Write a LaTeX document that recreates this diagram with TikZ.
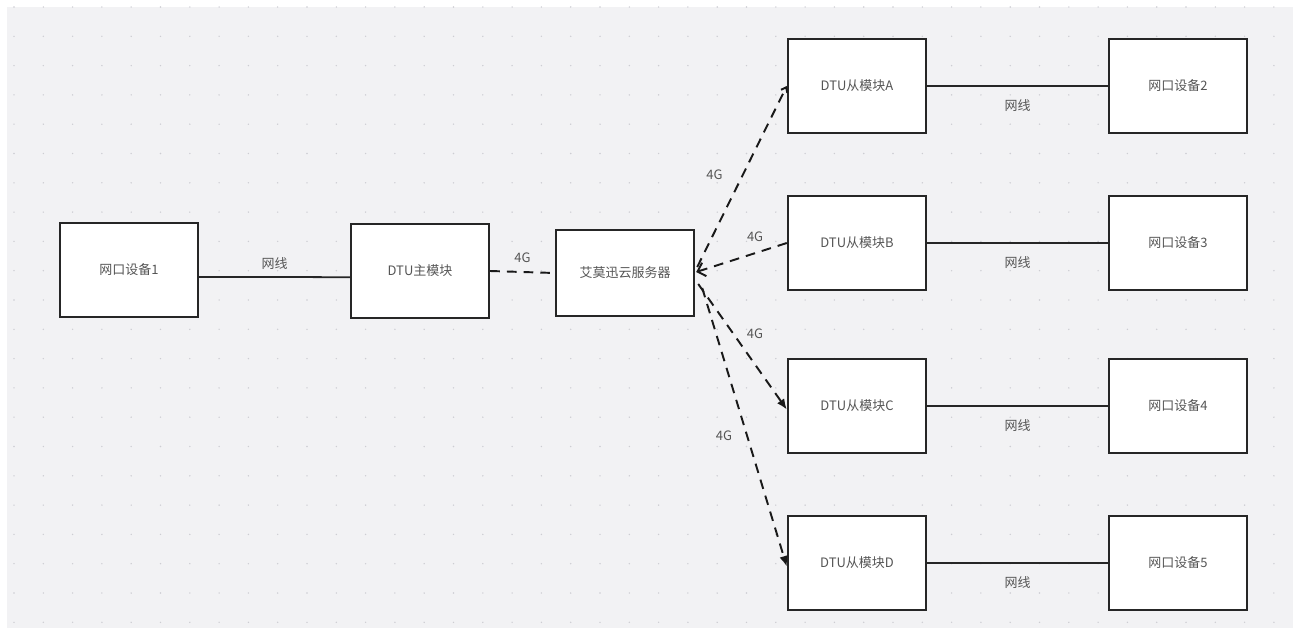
\documentclass[tikz,border=0pt]{standalone}
\usepackage{fontspec}
\newfontfamily\cjk{Noto Sans CJK SC}
\usepackage{tikz}
\usetikzlibrary{arrows.meta}
\definecolor{bgc}{HTML}{F2F2F4}
\definecolor{dotc}{HTML}{CDCDD2}
\definecolor{txtc}{HTML}{555555}
\tikzset{
  box/.style={draw=black!85,line width=1.4pt,fill=white,minimum width=2.76cm,minimum height=1.88cm,inner sep=0pt,font=\cjk\fontsize{7.4}{9}\selectfont,text=txtc},
  wire/.style={line width=1pt,black!85},
  radio/.style={line width=1.1pt,black!90,dash pattern=on 5.5pt off 4pt},
  lbl/.style={font=\cjk\fontsize{7.4}{9}\selectfont,text=txtc,inner sep=1pt}
}

\begin{document}
\begin{tikzpicture}[x=0.02cm,y=-0.02cm]
\useasboundingbox (0,0) rectangle (1293,628);
\fill[bgc] (7,7) rectangle (1293,628);
\foreach \i in {0,...,43}
  \foreach \j in {0,...,21}
    \fill[dotc] (14+29.3*\i,7+29.3*\j) circle[radius=0.45pt];

\node[box] (dev1) at (129,270) {网口设备1};
\node[box] (main) at (420,271) {DTU主模块};
\node[box,minimum height=1.72cm] (cloud) at (625,273) {艾莫迅云服务器};
\foreach \n/\y/\d in {A/86/2,B/243/3,C/406/4,D/563/5} {
  \node[box] (s\n) at (857,\y) {DTU从模块\n};
  \node[box] (d\d) at (1178,\y) {网口设备\d};
  \draw[wire] (s\n) -- node[lbl,below=6pt] {网线} (d\d);
}

\draw[wire] ([yshift=-4pt]dev1.east) -- node[lbl,above=3pt] {网线} ([yshift=-3.5pt]main.west);
\draw[radio] (main.east) -- node[lbl,above=4pt] {4G} (cloud.west);
\draw[radio,-{Straight Barb[length=2.5pt,width=4pt]}] ([shift={(2,-6)}]cloud.east) -- node[lbl,left=10pt,pos=0.51] {4G} (sA.west);
\draw[radio,-{Straight Barb[length=4pt,width=8pt]}] (sB.west) -- node[lbl,above=5pt,pos=0.35] {4G} ([shift={(1,-1)}]cloud.east);
\draw[radio,-{Latex[length=6pt,width=5pt]}] ([shift={(3,11)}]cloud.east) -- node[lbl,right=6pt,pos=0.4] {4G} ([yshift=-2pt]sC.west);
\draw[radio,-{Latex[length=6pt,width=5pt]}] ([shift={(7,15)}]cloud.east) -- node[lbl,left=7pt,pos=0.53] {4G} ([yshift=-2pt]sD.west);
\end{tikzpicture}
\end{document}
